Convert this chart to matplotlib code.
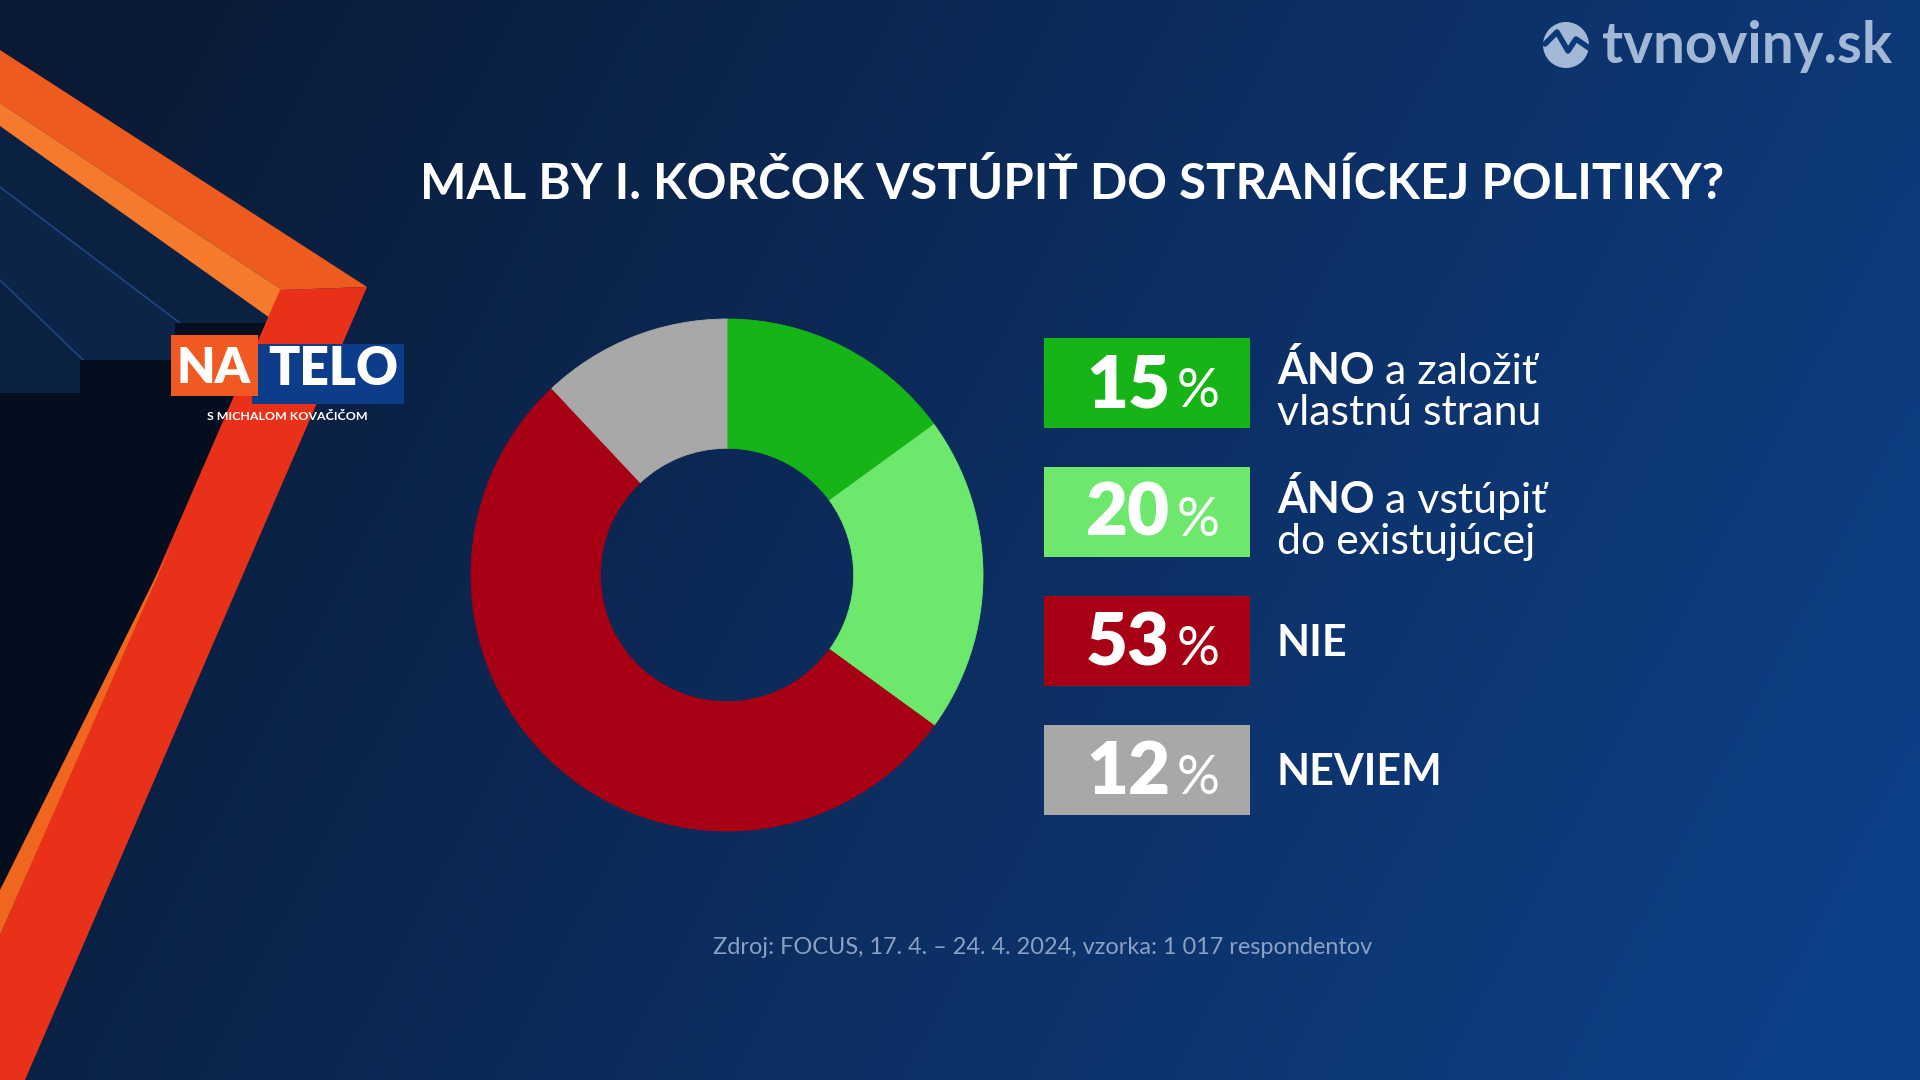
import numpy as np
import matplotlib.pyplot as plt
from matplotlib.patches import Polygon, Rectangle, Circle
from matplotlib.colors import to_rgb

# ---------- chart content ----------
TITLE = "MAL BY I. KORČOK VSTÚPIŤ DO STRANÍCKEJ POLITIKY?"
shares = [15, 20, 53, 12]
label_bold = ["ÁNO", "ÁNO", "NIE", "NEVIEM"]
label_rest = [" a založiť", " a vstúpiť", "", ""]
label_line2 = ["vlastnú stranu", "do existujúcej", "", ""]
slice_colors = ["#17b417", "#6ee86c", "#a80014", "#a8a8a8"]
SOURCE = "Zdroj: FOCUS, 17. 4. – 24. 4. 2024, vzorka: 1 017 respondentov"
SITE = "tvnoviny.sk"
# -----------------------------------

W, H = 1920, 1080
plt.rcParams['font.family'] = ['Lato', 'DejaVu Sans']

fig = plt.figure(figsize=(19.2, 10.8), dpi=100)
ax = fig.add_axes([0, 0, 1, 1])

# background gradient, dark navy -> blue
yy, xx = np.mgrid[0:1:108j, 0:1:192j]
t = np.clip(0.85 * xx + 0.25 * yy - 0.05, 0, 1)
c0, c1 = np.array(to_rgb("#0a1a35")), np.array(to_rgb("#0e4088"))
ax.imshow(c0 + t[..., None] * (c1 - c0), extent=[0, W, H, 0],
          interpolation="bilinear", aspect="auto", zorder=0)
ax.set_xlim(0, W); ax.set_ylim(H, 0); ax.axis("off")

def poly(pts, color, z=1):
    ax.add_patch(Polygon(pts, closed=True, facecolor=color, edgecolor="none", zorder=z))

# left decoration (frame corner)
poly([(0, 126), (272, 318), (0, 935)], "#0b2142")
poly([(0, 187), (180, 323), (175, 360), (83, 360), (0, 280)], "#0b2447")
poly([(175, 323), (268, 323), (0, 935), (0, 393), (80, 393), (80, 360), (175, 360)],
     "#040e1e", 1.5)
ax.plot([0, 180], [187, 323], color="#1d4584", lw=1.2, zorder=1.2)
ax.plot([0, 83], [280, 360], color="#1d4584", lw=1.2, zorder=1.2)
poly([(0, 50), (367, 287), (282, 290), (0, 103)], "#ee5b1e", 2)
poly([(0, 103), (282, 290), (270, 318), (0, 126)], "#f67a2b", 2)
poly([(280, 290), (367, 287), (25, 1080), (0, 1080), (0, 935)], "#e9311a", 2)
poly([(170, 548), (0, 935), (0, 890)], "#f0661f", 3)

renderer = fig.canvas.get_renderer()

def fit(txt, target):
    w = txt.get_window_extent(renderer).width
    txt.set_fontsize(txt.get_fontsize() * target / w)
    return txt

# NA TELO logo
ax.add_patch(Rectangle((252, 344), 152, 60, facecolor="#0d3d8a", zorder=5))
ax.add_patch(Rectangle((171, 335), 87, 61, facecolor="#f05a22", zorder=6))
fit(ax.text(214, 383, "NA", color="white", fontweight="heavy", ha="center",
            va="baseline", fontsize=40, zorder=7), 74)
fit(ax.text(333, 385, "TELO", color="white", fontweight="heavy", ha="center",
            va="baseline", fontsize=40, zorder=7), 130)
fit(ax.text(287, 416, "S MICHALOM KOVAČIČOM", color="white", fontweight="bold",
            ha="center", va="center", fontsize=9, zorder=7), 160)

# site logo
ax.add_patch(Circle((1566, 45), 23, facecolor="#a3b7d6", zorder=5))
ax.plot([1545, 1557, 1568, 1576, 1589], [44, 32, 51, 39, 48], color="#0d3878",
        lw=4, solid_capstyle="round", solid_joinstyle="round", zorder=6)
fit(ax.text(1602, 63, SITE, color="#a3b7d6", fontweight="bold", ha="left",
            va="baseline", fontsize=40, zorder=5), 290)

# title
fit(ax.text(1072, 199, TITLE, color="white", fontweight="bold", ha="center",
            va="baseline", fontsize=38), 1301)

# donut
cx, cy, R = 727, 575, 256
pax = fig.add_axes([(cx - R) / W, (H - cy - R) / H, 2 * R / W, 2 * R / H])
wedges, _ = pax.pie(shares, colors=slice_colors, startangle=90, counterclock=False,
                    radius=1, wedgeprops=dict(width=0.505, linewidth=0.6))
for w_ in wedges:
    w_.set_edgecolor(w_.get_facecolor())
pax.set_xlim(-1, 1); pax.set_ylim(-1, 1); pax.axis("off")

# legend boxes
probe = ax.text(0, -100, label_line2[0], fontsize=28)
fit(probe, 265)
lab_fs = probe.get_fontsize()
probe.remove()
num_probe = ax.text(0, -100, "15", fontsize=48, fontweight="heavy")
fit(num_probe, 84)
num_fs = num_probe.get_fontsize()
num_probe.remove()

for i, v in enumerate(shares):
    top = 338 + i * 129
    mid = top + 45
    ax.add_patch(Rectangle((1044, top), 206, 90, facecolor=slice_colors[i], zorder=3))
    ax.text(1170, mid + 24, f"{v}", color="white", fontweight="heavy", fontsize=num_fs,
            ha="right", va="baseline", zorder=4)
    ax.text(1177, mid + 24, "%", color="white", fontweight="normal",
            fontsize=num_fs * 0.74, ha="left", va="baseline", zorder=4)
    if label_line2[i]:
        b = ax.text(1277, mid + 1, label_bold[i], color="white", fontweight="bold",
                    fontsize=lab_fs, ha="left", va="baseline")
        x1 = b.get_window_extent(renderer).x1
        ax.text(x1, mid + 1, label_rest[i], color="white", fontsize=lab_fs,
                ha="left", va="baseline")
        ax.text(1277, mid + 42, label_line2[i], color="white", fontsize=lab_fs,
                ha="left", va="baseline")
    else:
        ax.text(1277, mid + 15, label_bold[i], color="white", fontweight="bold",
                fontsize=lab_fs, ha="left", va="baseline")

# source
fit(ax.text(1043, 947, SOURCE, color="#8aa1c4", ha="center", va="center",
            fontsize=17), 659)

fig.savefig("out.png", dpi=100)
